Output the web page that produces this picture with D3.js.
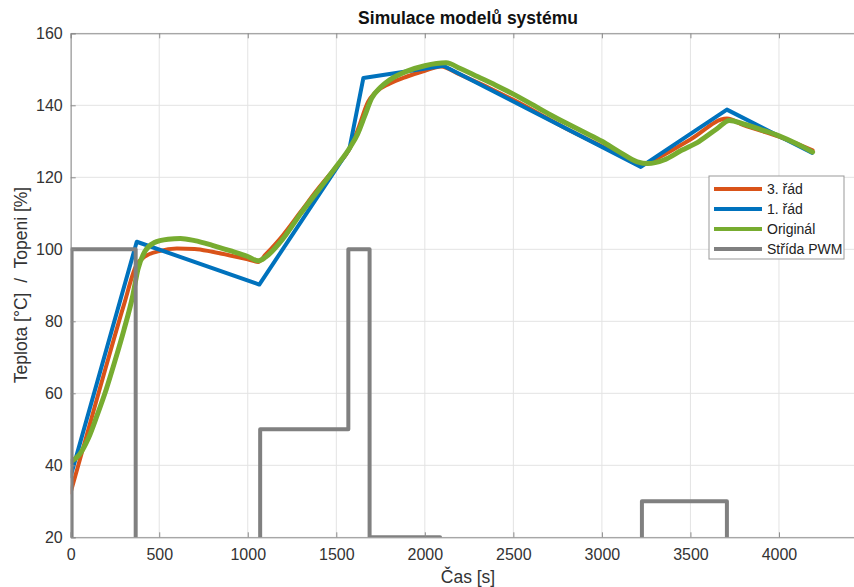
<!DOCTYPE html>
<html><head><meta charset="utf-8">
<script src="https://cdn.jsdelivr.net/npm/d3@7"></script>
<style>body{margin:0;background:#fff}svg{display:block}text{font-family:"Liberation Sans",Arial,sans-serif}</style>
</head><body><svg id="c" width="854" height="587"></svg>
<script>
const xTicks=[0,500,1000,1500,2000,2500,3000,3500,4000];
const yTicks=[20,40,60,80,100,120,140,160];
const seriesNames=["3. řád","1. řád","Originál","Střída PWM"];
const seriesColors=["#D95319","#0072BD","#77AC30","#808080"];
const order3=[[0,32.5],[100,50],[200,67.5],[300,84.5],[370,95.5],[420,98],[500,99.5],[600,100.2],[700,100.1],[800,99.3],[900,98.3],[1000,97.2],[1060,96.5],[1100,98.5],[1200,104],[1300,110.5],[1400,117],[1500,123],[1570,127.5],[1620,133],[1680,141],[1720,143.5],[1800,146],[1900,148],[2000,149.6],[2090,150.8],[2200,148.5],[2500,141.5],[2800,133.5],[3100,126.3],[3220,123.5],[3300,125],[3500,130.5],[3706,136.3],[3800,134.5],[4000,131.3],[4190,127.5]];
const order1=[[0,37],[373,102.1],[1065,90.2],[1574,127.9],[1653,147.6],[2105,151],[3220,122.9],[3706,138.8],[4186,126.8]];
const original=[[0,41],[50,43],[100,47.5],[150,54],[200,61],[250,69],[300,77.5],[350,87],[380,94.5],[420,99.5],[470,101.8],[550,102.8],[620,103],[700,102.4],[800,101.1],[900,99.6],[1000,98],[1060,96.8],[1100,97.8],[1200,103],[1300,110],[1400,116.5],[1500,123],[1580,128.5],[1620,132],[1660,137],[1700,142],[1750,145],[1800,147],[1900,149.5],[2000,151],[2120,151.8],[2200,150.2],[2300,147.9],[2400,145.6],[2500,143.1],[2600,140.4],[2700,137.6],[2800,135],[2900,132.5],[3000,130],[3100,127],[3200,124.3],[3260,123.8],[3350,124.8],[3450,127.5],[3550,130],[3650,133.5],[3720,135.8],[3800,134.8],[3900,133.2],[4000,131.5],[4100,129.3],[4190,127]];
const pwm=[[5,0],[5,100],[367,100],[367,0],[1070,0],[1070,50],[1568,50],[1568,100],[1688,100],[1688,20],[2086,20],[2086,0],[3226,0],[3226,30],[3706,30],[3706,0],[4190,0]];

const svg=d3.select("#c");
const x=d3.scaleLinear().domain([0,4500]).range([70.7,867.5]);
const y=d3.scaleLinear().domain([20,160]).range([537.3,33.3]);
const L=x(0),R=x(4500),T=y(160),B=y(20);

// grid
const g=svg.append("g");
g.selectAll(".gx").data(xTicks).join("line").attr("x1",d=>x(d)).attr("x2",d=>x(d)).attr("y1",T).attr("y2",B).attr("stroke","#e3e3e3").attr("stroke-width",1);
g.selectAll(".gy").data(yTicks).join("line").attr("y1",d=>y(d)).attr("y2",d=>y(d)).attr("x1",L).attr("x2",R).attr("stroke","#e3e3e3").attr("stroke-width",1);

// clip
svg.append("clipPath").attr("id","clip").append("rect").attr("x",L).attr("y",T).attr("width",R-L).attr("height",B-T);
const lineS=d3.line().x(d=>x(d[0])).y(d=>y(d[1])).curve(d3.curveMonotoneX);
const lineL=d3.line().x(d=>x(d[0])).y(d=>y(d[1]));
const pg=svg.append("g").attr("clip-path","url(#clip)");
const defs=[[order3,lineS,4],[order1,lineL,4],[original,lineS,5],[pwm,lineL,4]];
defs.forEach(([s,ln,w],i)=>{
  pg.append("path").datum(s).attr("d",ln).attr("fill","none").attr("stroke",seriesColors[i]).attr("stroke-width",w).attr("stroke-linejoin","round").attr("stroke-linecap",i==3?"butt":"round");
});

// axes
const axCol="#8c8c8c";
const xa=svg.append("g").attr("transform",`translate(0,${B})`).call(d3.axisBottom(x).tickValues(xTicks).tickSize(-5).tickPadding(11).tickFormat(d3.format("d")));
const xt=svg.append("g").attr("transform",`translate(0,${T})`).call(d3.axisTop(x).tickValues(xTicks).tickSize(-5).tickFormat(""));
const ya=svg.append("g").attr("transform",`translate(${L},0)`).call(d3.axisLeft(y).tickValues(yTicks).tickSize(-5).tickPadding(8));
[xa,xt,ya].forEach(a=>{a.select(".domain").attr("stroke",axCol);a.selectAll(".tick line").attr("stroke",axCol);a.selectAll("text").attr("fill","#333").attr("font-size",16).attr("font-family","Liberation Sans, Arial, sans-serif");});

// titles
svg.append("text").attr("x",468).attr("y",24).attr("text-anchor","middle").attr("font-weight","bold").attr("font-size",17.5).attr("fill","#111").text("Simulace modelů systému");
svg.append("text").attr("x",468).attr("y",583).attr("text-anchor","middle").attr("font-size",17.5).attr("fill","#333").text("Čas [s]");
svg.append("text").attr("transform","translate(27,285) rotate(-90)").attr("text-anchor","middle").attr("font-size",17.5).attr("fill","#333").attr("xml:space","preserve").text("Teplota [°C]  /  Topeni [%]");

// legend
const lg=svg.append("g");
lg.append("rect").attr("x",709).attr("y",176).attr("width",135).attr("height",83).attr("fill","#fff").attr("stroke","#999").attr("stroke-width",1);
seriesNames.forEach((n,i)=>{
  const yy=189+i*20;
  lg.append("line").attr("x1",714).attr("x2",762).attr("y1",yy).attr("y2",yy).attr("stroke",seriesColors[i]).attr("stroke-width",4);
  lg.append("text").attr("x",767).attr("y",yy+5).attr("font-size",14).attr("fill","#222").text(n);
});
</script></body></html>
